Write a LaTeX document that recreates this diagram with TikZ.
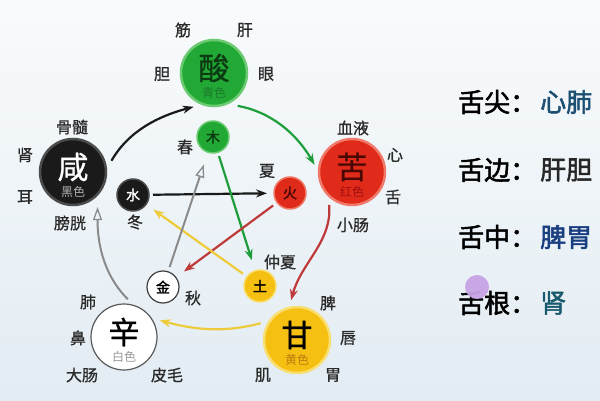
\documentclass[tikz,border=0pt]{standalone}
\usepackage{fontspec}
\setmainfont{Noto Sans CJK SC}
\newfontfamily\cjkb[FakeBold=2]{Noto Sans CJK SC}
\newfontfamily\cjkm[FakeBold=0.8]{Noto Sans CJK SC}
\usetikzlibrary{arrows.meta}
\definecolor{bgtop}{HTML}{F9FBFC}
\definecolor{bgbot}{HTML}{E2ECF3}
\definecolor{grn}{HTML}{22A834}
\definecolor{grnhalo}{HTML}{6CCB72}
\definecolor{grndk}{HTML}{0C3A12}
\definecolor{grnsub}{HTML}{1C7A2A}
\definecolor{red}{HTML}{E02A1A}
\definecolor{redhalo}{HTML}{F07A6A}
\definecolor{reddk}{HTML}{4A0804}
\definecolor{redsub}{HTML}{A01010}
\definecolor{yel}{HTML}{F5C012}
\definecolor{yelhalo}{HTML}{F9DE70}
\definecolor{yelsub}{HTML}{C07A10}
\definecolor{blk}{HTML}{1A1A1A}
\definecolor{gry}{HTML}{8A8A8A}
\definecolor{arrgrn}{HTML}{1E9E3A}
\definecolor{arrred}{HTML}{BE3A3A}
\definecolor{arryel}{HTML}{EDCB3A}
\definecolor{lab}{HTML}{2A2A2A}
\definecolor{tA}{HTML}{1D4F73}
\definecolor{tB}{HTML}{262626}
\definecolor{tC}{HTML}{1A3F80}
\definecolor{tD}{HTML}{1A5A6E}
\definecolor{purp}{HTML}{C8A4E6}
\begin{document}
\begin{tikzpicture}[x=1pt,y=1pt,
  big/.style={circle,minimum size=66pt,inner sep=0pt,outer sep=0pt,line width=2.5pt},
  bigch/.style={font=\fontsize{31}{31}\selectfont\cjkm,inner sep=0pt},
  sub/.style={font=\fontsize{12}{12}\selectfont,inner sep=0pt},
  small/.style={circle,minimum size=32pt,inner sep=0pt,outer sep=0pt,line width=1.5pt,font=\fontsize{14}{14}\selectfont\cjkb},
  lbl/.style={font=\fontsize{16}{16}\selectfont\cjkm,text=lab,inner sep=0pt},
  rt/.style={font=\fontsize{26}{26}\selectfont\cjkb,inner sep=0pt,anchor=west},
  arr/.style={line width=2.2pt,-{Stealth[length=11pt,width=8pt]}},
  oarr/.style={line width=2pt,-{Triangle[open,length=13pt,width=9pt,line width=1.3pt]}},
]
\useasboundingbox (0,0) rectangle (600,400);
\shade[top color=bgtop,bottom color=bgbot] (0,0) rectangle (600,400);

% big circles
\node[big,fill=grn,draw=grnhalo] (suan) at (214,327) {};
\node[bigch,text=grndk] (suanc) at ([yshift=5]suan.center) {酸};
\node[sub,text=grnsub] (suans) at ([yshift=-20]suan.center) {青色};

\node[big,fill=blk,draw=black!70] (xian) at (73,228) {};
\node[bigch,text=white] (xianc) at ([yshift=5]xian.center) {咸};
\node[sub,text=black!30] (xians) at ([yshift=-20]xian.center) {黑色};

\node[big,fill=red,draw=redhalo] (ku) at (352,228) {};
\node[bigch,text=reddk] (kuc) at ([yshift=5]ku.center) {苦};
\node[sub,text=redsub] (kus) at ([yshift=-20]ku.center) {红色};

\node[big,fill=yel,draw=yelhalo] (gan) at (297,60) {};
\node[bigch,text=black] (ganc) at ([yshift=5]gan.center) {甘};
\node[sub,text=yelsub] (gans) at ([yshift=-20]gan.center) {黄色};

\node[big,fill=white,draw=black!65,line width=1.2pt] (xin) at (124,63) {};
\node[bigch,text=black] (xinc) at ([yshift=5]xin.center) {辛};
\node[sub,text=black!40] (xins) at ([yshift=-20]xin.center) {白色};

% small circles
\node[small,fill=grn,draw=grnhalo,text=grndk] (mu) at (213,263) {木};
\node[small,fill=blk,draw=black!70,text=white] (shui) at (133,205) {水};
\node[small,fill=red,draw=redhalo,text=reddk] (huo) at (290,207) {火};
\node[small,fill=white,draw=black!75,line width=1.2pt,text=black] (jin) at (163,113) {金};
\node[small,fill=yel,draw=yelhalo,text=black] (tu) at (260,114) {土};

% labels
\node[lbl] (l1) at (183,370) {筋};
\node[lbl] (l2) at (245,370) {肝};
\node[lbl] (l3) at (162,326) {胆};
\node[lbl] (l4) at (266,326) {眼};
\node[lbl] (l5) at (72,273) {骨髓};
\node[lbl] (l6) at (25,245) {肾};
\node[lbl] (l7) at (25,203) {耳};
\node[lbl] (l8) at (70,177) {膀胱};
\node[lbl] (l9) at (135,178) {冬};
\node[lbl] (l10) at (185,253) {春};
\node[lbl] (l11) at (267,229) {夏};
\node[lbl] (l12) at (353,272) {血液};
\node[lbl] (l13) at (395,245) {心};
\node[lbl] (l14) at (393,203) {舌};
\node[lbl] (l15) at (353,175) {小肠};
\node[lbl] (l16) at (280,138) {仲夏};
\node[lbl] (l17) at (193,102) {秋};
\node[lbl] (l18) at (88,98) {肺};
\node[lbl] (l19) at (78,62) {鼻};
\node[lbl] (l20) at (82,25) {大肠};
\node[lbl] (l21) at (167,25) {皮毛};
\node[lbl] (l22) at (328,97) {脾};
\node[lbl] (l23) at (348,62) {唇};
\node[lbl] (l24) at (263,25) {肌};
\node[lbl] (l25) at (333,25) {胃};

% outer cycle arrows
\draw[arr,color=blk,shorten <=11pt,shorten >=10pt] (xian.3) to[out=60,in=195] (suan.251);
\draw[arr,color=arrgrn,shorten <=12pt,shorten >=9pt] (suan.291) to[out=-10,in=120] (ku.181);
\draw[arr,color=arrred,shorten <=10pt,shorten >=8pt] (ku.224) to[out=-85,in=75] (gan.104);
\draw[arr,color=arryel,shorten <=10pt,shorten >=9pt] (gan.144) to[out=195,in=-15] (xin.35);
\draw[oarr,color=gry,shorten <=9pt,shorten >=13pt] (xin.72) to[out=135,in=-90] (xian.-42);

% inner star arrows
\draw[arr,color=blk,shorten <=4pt,shorten >=7pt] (shui) -- (huo);
\draw[arr,color=arrgrn,shorten <=4pt,shorten >=11pt] (mu) -- (tu);
\draw[arr,color=arrred,shorten <=5pt,shorten >=10pt] (huo) -- (jin);
\draw[arr,color=arryel,shorten <=5pt,shorten >=9pt] (tu) -- (shui);
\draw[oarr,color=gry,shorten <=5pt,shorten >=13pt] (jin) -- (mu);

% right texts
\node[rt,text=black] (r1) at (458,298) {舌尖：};
\node[rt,text=tA] (r1b) at (540,298) {心肺};
\node[rt,text=black] (r2) at (458,230) {舌边：};
\node[rt,text=tB] (r2b) at (540,230) {肝胆};
\node[rt,text=black] (r3) at (458,163) {舌中：};
\node[rt,text=tC] (r3b) at (540,163) {脾胃};
\node[rt,text=black] (r4) at (458,97) {舌根：};
\node[rt,text=tD] (r4b) at (540,97) {肾};
\fill[purp,opacity=0.95] (477,113) circle (12);
\end{tikzpicture}
\end{document}
